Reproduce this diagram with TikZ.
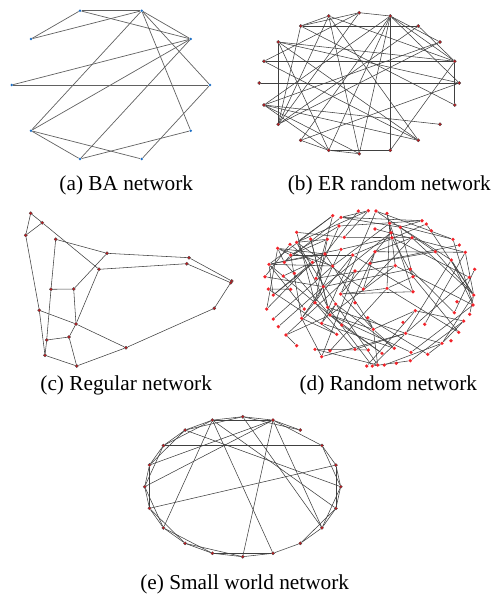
\documentclass[tikz,border=0pt]{standalone}
\usepackage{fontspec}
\setmainfont{Liberation Serif}
\definecolor{bablue}{HTML}{1F6FC4}
\definecolor{erred}{HTML}{C0161C}
\definecolor{dred}{HTML}{F2232A}
\pgfdeclarelayer{bg}
\pgfsetlayers{bg,main}
\tikzset{
  aedge/.style={draw=black!62, line width=0.7pt},
  edge/.style={draw=black!75, line width=0.55pt},
  dedge/.style={draw=black!75, line width=0.55pt},
  bdot/.style={circle, fill=bablue, inner sep=0pt, minimum size=2.8pt},
  rdot/.style={circle, fill=erred, draw=black!70, line width=0.3pt, inner sep=0pt, minimum size=3.3pt},
  ddot/.style={circle, fill=dred, inner sep=0pt, minimum size=3.6pt},
  lbl/.style={anchor=base, font=\fontsize{21.3}{24}\selectfont, inner sep=0pt},
}
\begin{document}
\begin{tikzpicture}[x=1pt,y=-1pt]
\useasboundingbox (0,0) rectangle (502,598);

% ---------- (a) BA network ----------
\foreach \n/\x/\y in {1/80/10.7,2/141.7/10.7,3/31/39,4/190.7/39,5/11.7/85,6/210/85,7/31/130.7,8/190.7/130.7,9/80/159,10/141.7/159}
  \node[bdot] (a\n) at (\x,\y) {};
\foreach \p/\q in {1/2,1/3,1/4,3/2,2/4,2/7,2/8,2/6,4/5,4/7,4/9,5/6,7/10,7/9,9/8,10/6}
  \draw[aedge] (a\p) -- (a\q);
\node[lbl] (la) at (126.3,190.5) {(a) BA network};

% ---------- (b) ER random network ----------
\foreach \n/\x/\y in {1/328.7/16,2/359.3/12.7,3/390.3/16,4/418.3/26,5/300.7/26,6/278.3/42,7/440/42,8/264/61.3,9/454.7/61.3,10/259.3/83,11/459.3/83,12/264/105,13/454.7/105,14/278.3/124.3,15/440/124.3,16/300.7/140.3,17/418.3/140.3,18/328.7/150.3,19/390.3/150.3,20/359.3/153.7}
  \node[rdot] (b\n) at (\x,\y) {};
\foreach \p/\q in {5/4,2/3,1/5,2/5,2/8,2/14,1/20,1/17,1/14,1/9,3/19,3/18,3/20,3/7,3/9,3/11,3/12,3/16,4/9,5/14,5/13,6/14,6/9,6/11,6/18,6/17,7/14,7/12,8/9,8/17,9/13,9/19,10/11,11/16,12/15,12/18,12/17,16/18,18/20,18/19,12/20,14/4}
  \draw[edge] (b\p) -- (b\q);
\node[lbl] (lb) at (389.3,190.5) {(b) ER random network};

% ---------- (c) Regular network ----------
\foreach \n/\x/\y in {1/30.7/213.3,2/42.3/222.7,3/25.7/235.3,4/55.7/239.3,5/107/253.3,6/189/257.7,7/186.7/263.7,8/99/269.3,9/231.7/281,10/230.7/282.7,11/51/289.3,12/73.7/289,13/39.3/310.3,14/214.3/308.3,15/76/324,16/69/337,17/46.7/340,18/126/347.7,19/45/355.3,20/76.7/366}
  \node[rdot] (c\n) at (\x,\y) {};
\foreach \p/\q in {1/2,1/3,2/3,2/8,4/5,5/6,5/12,8/7,8/15,6/9,7/10,10/14,14/18,11/12,4/11,11/17,12/15,13/15,15/18,15/16,16/17,16/20,19/20,20/18,17/19,3/13,13/19}
  \draw[edge] (c\p) -- (c\q);
\node[lbl] (lc) at (126.2,390) {(c) Regular network};

% ---------- (d) Random network ----------
\def\dnodes{332.7/215.7,341/217.3,358.3/211,368.3/210.7,376/211,339/226,296.7/232.3,375/229,290/244.3,296.7/242.3,310.7/239,327.3/239.3,344.3/237.3,277.7/248.3,290.7/255,325/254,341/249.3,352.7/255,375/251.7,269/264.3,284.3/262.3,312.3/262.3,332.7/266,370/263.3,265/276.7,283.3/276,294.3/273.3,316/278.3,355/271,323.3/286.7,268.3/289,290.7/289.3,273.3/295,340.7/294,363.3/289,315/302.7,266.7/309,304.3/309,327.7/307.3,335.7/304,355/302.7,273.3/319,301.7/318.3,330/315,367.7/317.7,278.3/326.7,321.7/323.3,341.7/325,373.3/329.3,286/335,336.7/334.3,296.7/345.7,315/349.3,330/350.7,355/349.3,368.3/350,321.7/356.7,366.7/366,372.3/366,377.7/365,387/213.3,389.7/223.3,400.3/227.3,422/220.7,426.3/224,431.3/230.7,391/232.7,392/237.7,412/237.7,453/239.3,459.3/245,465.3/252.3,435.3/251.7,451.3/260,474.7/269.3,395.3/265.7,410.3/269,413/276.7,469.3/277.3,387/288.3,413/291.7,473.7/295,457/301.7,473/305,454.3/312.7,469.7/314.3,415.3/310.7,463.7/321,403/322.3,424.7/324.3,458.7/332.3,405.7/333.3,451/340.7,442/343.3,394.3/348.3,382/353.3,411/352.3,427.7/354.3,410.3/360.7,396.3/363.3,384.3/365}
\foreach \x/\y [count=\i] in \dnodes {
  \node[ddot] (d\i) at (\x,\y) {};
  \expandafter\xdef\csname dX\i\endcsname{\x}
  \expandafter\xdef\csname dY\i\endcsname{\y}
  \xdef\dN{\i}
}
\pgfmathtruncatemacro\dNm{\dN-1}
\begin{pgfonlayer}{bg}
\pgfmathsetseed{4711}
\foreach \i in {1,...,\dNm} {
  \pgfmathtruncatemacro\ii{\i+1}
  \edef\xa{\csname dX\i\endcsname}\edef\ya{\csname dY\i\endcsname}
  \foreach \j in {\ii,...,\dN} {
    \edef\xb{\csname dX\j\endcsname}\edef\yb{\csname dY\j\endcsname}
    \pgfmathsetmacro\dd{veclen(\xa-\xb,\ya-\yb)}
    \pgfmathsetmacro\rr{rnd}
    \pgfmathtruncatemacro\ok{(\dd<95)&&(\rr<0.055)}
    \ifnum\ok=1 \draw[dedge] (d\i) -- (d\j);\fi
  }
}
\end{pgfonlayer}
\node[lbl] (ld) at (388.3,390) {(d) Random network};

% ---------- (e) Small world network ----------
\foreach \k in {0,...,19} {
  \pgfmathsetmacro\ang{90-18*\k}
  \node[rdot] (e\k) at ({242.7+98*cos(\ang)},{486.7-70*sin(\ang)}) {};
}
\foreach \p/\q in {0/1,1/2,0/2,1/3,3/4,3/5,4/5,4/6,5/6,5/7,6/7,6/8,7/8,8/9,9/10,9/11,10/11,10/12,11/12,11/13,12/13,12/14,13/14,13/15,14/15,14/16,15/16,15/17,16/17,16/18,17/18,17/19,18/19,18/0,19/0,19/1,
  17/3,18/5,19/6,19/13,19/9,0/7,1/7,1/10,1/16,1/15,14/4}
  \draw[edge] (e\p) -- (e\q);
\node[lbl] (le) at (244.7,589) {(e) Small world network};
\end{tikzpicture}
\end{document}
